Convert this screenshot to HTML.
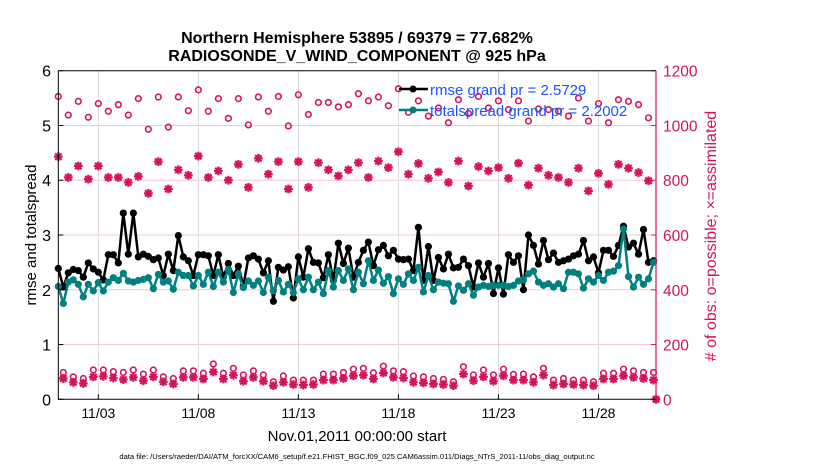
<!DOCTYPE html>
<html><head><meta charset="utf-8"><style>
body{margin:0;background:#fff;width:830px;height:470px;overflow:hidden}
svg{font-family:"Liberation Sans",Arial,sans-serif}
</style></head><body>
<svg id="chart" width="830" height="470">
<text x="357" y="43" text-anchor="middle" font-size="16" font-weight="bold">Northern Hemisphere 53895 / 69379 = 77.682%</text>
<text x="357" y="61" text-anchor="middle" font-size="16" font-weight="bold">RADIOSONDE_V_WIND_COMPONENT @ 925 hPa</text>
<g id="grid"></g>
<g id="obs"></g>
<g id="lines"></g>
<g id="axes"></g>
<text transform="translate(36,235) rotate(-90)" text-anchor="middle" font-size="15">rmse and totalspread</text>
<text transform="translate(716,236) rotate(-90)" text-anchor="middle" font-size="16" fill="#d4145a"># of obs: o=possible; ×=assimilated</text>
<text x="357" y="441" text-anchor="middle" font-size="15">Nov.01,2011 00:00:00 start</text>
<text x="357" y="459" text-anchor="middle" font-size="7.6">data file: /Users/raeder/DAI/ATM_forcXX/CAM6_setup/f.e21.FHIST_BGC.f09_025.CAM6assim.011/Diags_NTrS_2011-11/obs_diag_output.nc</text>
<g>
<line x1="399" y1="89" x2="428" y2="89" stroke="#000" stroke-width="2.5"/>
<circle cx="413" cy="89" r="3.5" fill="#000"/>
<text x="430" y="95" font-size="15" fill="#1a53ff">rmse grand pr = 2.5729</text>
<line x1="399" y1="110" x2="428" y2="110" stroke="#008080" stroke-width="2.5"/>
<circle cx="413" cy="110" r="3.5" fill="#008080"/>
<text x="430" y="116" font-size="15" fill="#1a53ff">totalspread grand pr = 2.2002</text>
</g>
</svg>
<script>
const rmse=[2.39,2.05,2.31,2.37,2.35,2.23,2.49,2.38,2.32,2.18,2.64,2.64,2.49,3.4,2.65,3.4,2.6,2.65,2.61,2.55,2.58,2.26,2.65,2.35,2.99,2.6,2.53,2.26,2.64,2.64,2.62,2.26,2.64,2.23,2.48,2.26,2.43,2.07,2.58,2.62,2.56,2.31,2.53,1.79,2.41,2.36,2.42,1.85,2.6,2.23,2.75,2.5,2.49,2.22,2.64,2.17,2.85,2.48,2.76,2.23,
2.5,2.72,2.87,2.44,2.73,2.81,2.62,2.72,2.56,2.55,2.56,2.35,3.14,2.17,2.79,2.17,2.59,2.38,2.65,2.4,2.41,2.56,2.44,2.05,2.49,2.23,2.48,1.93,2.4,1.92,2.64,2.5,2.62,2.0,3.0,2.81,2.47,2.9,2.55,2.67,2.5,2.53,2.56,2.62,2.65,2.9,2.53,2.6,2.31,2.72,2.72,2.61,2.81,3.16,2.78,2.85,2.65,3.1,2.5,2.53];
const spread=[2.06,1.75,2.14,2.18,2.1,1.87,2.1,1.98,2.13,1.98,2.14,2.22,2.17,2.3,2.16,2.14,2.17,2.19,2.22,2.02,2.28,2.14,2.16,2.01,2.32,2.26,2.26,2.07,2.26,2.1,2.32,2.06,2.32,2.14,2.37,1.95,2.29,2.04,2.16,2.08,2.16,1.95,2.23,1.98,2.17,1.96,2.1,1.95,2.2,2.0,2.23,2.0,2.14,1.93,2.35,2.05,2.35,2.17,2.38,2.0,
2.32,2.11,2.53,2.17,2.36,2.12,2.24,1.93,2.2,2.1,2.29,2.17,2.41,1.96,2.26,2.0,2.14,2.12,2.11,1.79,2.07,1.99,2.11,1.9,2.05,2.08,2.06,2.08,2.08,2.08,2.06,2.08,2.16,2.18,2.29,2.34,2.14,2.08,2.11,2.05,2.11,2.02,2.32,2.32,2.29,2.03,2.2,2.14,2.26,2.17,2.32,2.34,2.44,3.11,2.24,2.05,2.23,2.1,2.2,2.5];
// obs counts at 00Z/12Z (even steps) and 06Z/18Z (odd steps)
const possibleMain=[1106,1038,1088,1030,1080,1052,1076,1038,1098,986,1104,994,1104,1054,1130,1052,1098,1026,1098,1002,1104,1052,1106,998,1112,1040,1084,1084,1068,1076,1116,1090,1104,1072,1134,1048,1090,1034,1064,1010,1094,1044,1106,1064,1090,1058,1090,1016,1060,1058,1052,1034,1100,1016,1080,1010,1094,1088,1076,1028];
const assimMain=[886,810,852,804,852,810,810,792,814,752,868,768,838,818,888,810,834,800,858,774,880,822,868,768,868,774,864,838,816,838,864,810,870,846,904,822,861,807,830,792,870,779,850,834,846,807,862,782,844,818,810,792,844,761,825,785,858,844,828,798];
const possibleOff=[98,82,76,107,107,101,98,107,92,107,82,76,104,104,95,129,95,113,89,104,89,64,85,70,70,70,92,92,98,110,113,97,121,104,101,85,82,76,73,64,119,89,107,89,110,91,92,82,113,70,76,70,70,64,95,95,110,104,98,98];
const assimOff=[76,62,58,82,84,78,72,80,68,82,64,56,80,80,74,100,74,88,66,80,66,50,62,54,52,54,70,70,76,86,88,74,96,80,78,62,60,56,54,50,92,68,82,66,86,70,70,62,88,52,56,54,52,50,74,74,86,80,76,70];
const xTickLabels=["11/03","11/08","11/13","11/18","11/23","11/28"];
const xTickDays=[2,7,12,17,22,27];
const leftTicks=[0,1,2,3,4,5,6];
const rightTicks=[0,200,400,600,800,1000,1200];

const X0=58.3,X1=656,Y0=399.3,Y1=70.7,DMAX=29.875;
const xs=d=>X0+(X1-X0)*d/DMAX;
const yl=v=>Y0-(Y0-Y1)*v/6;
const yr=v=>Y0-(Y0-Y1)*v/1200;
const NS="http://www.w3.org/2000/svg";
function mk(tag,attrs,parent){const e=document.createElementNS(NS,tag);for(const k in attrs)e.setAttribute(k,attrs[k]);parent.appendChild(e);return e;}
const grid=document.getElementById('grid'),axes=document.getElementById('axes'),obs=document.getElementById('obs'),lines=document.getElementById('lines');
const CR="#d4145a",TE="#008080";
mk('rect',{x:X0,y:Y1,width:X1-X0,height:Y0-Y1,fill:'#fff'},grid);
xTickDays.forEach((d,i)=>{
 const l=mk('line',{x1:xs(d),x2:xs(d),y1:Y1,y2:Y0,stroke:'#d8d8d8','stroke-width':1},grid);
 
 
 const t=mk('text',{x:xs(d),y:418,'text-anchor':'middle','font-size':14},axes);
 t.textContent=xTickLabels[i];
 
 
 mk('line',{x1:xs(d),x2:xs(d),y1:Y0,y2:Y0-5,stroke:'#000'},axes);
});
leftTicks.forEach(v=>{
 if(v>0&&v<6){const l=mk('line',{x1:X0,x2:X1,y1:yl(v),y2:yl(v),stroke:'#f4c6d8','stroke-width':1},grid);
 
 }
 const t=mk('text',{x:51,y:yl(v)+6,'text-anchor':'end','font-size':16},axes);
 t.textContent=v;
 
 
 mk('line',{x1:X0,x2:X0+5,y1:yl(v),y2:yl(v),stroke:'#000'},axes);
});
rightTicks.forEach(v=>{
 const t=mk('text',{x:663,y:yr(v)+6,'font-size':15.5,fill:CR},axes);
 t.textContent=v;
 
 
 mk('line',{x1:X1,x2:X1-5,y1:yr(v),y2:yr(v),stroke:CR},axes);
});
mk('path',{d:`M${X0},${Y1}H${X1}M${X0},${Y1}V${Y0}H${X1}`,stroke:'#000',fill:'none','stroke-width':1},axes);
mk('line',{x1:X1,x2:X1,y1:Y1,y2:Y0,stroke:CR,'stroke-width':1.2},axes);

function star(x,y){const s=4.4,q=3.2,g=mk('g',{stroke:CR,'stroke-width':2.2},obs);
 
 
 mk('path',{d:`M${x-s},${y}H${x+s}M${x},${y-s}V${y+s}M${x-q},${y-q}L${x+q},${y+q}M${x-q},${y+q}L${x+q},${y-q}`},g);}
function ring(x,y){const c=mk('circle',{cx:x,cy:y,r:2.8,fill:'none',stroke:CR,'stroke-width':1.6},obs);
 
 }
possibleMain.forEach((v,k)=>{const d=k*0.5;star(xs(d),yr(assimMain[k]));ring(xs(d),yr(v));});
possibleOff.forEach((v,k)=>{const d=k*0.5+0.25;star(xs(d),yr(assimOff[k]));ring(xs(d),yr(v));});
// final empty time (0 obs)
star(xs(DMAX),yr(0));ring(xs(DMAX),yr(0));

function series(vals,color,name){
 const pts=vals.map((v,i)=>[xs(i*0.25),yl(v)]);
 const p=mk('polyline',{points:pts.map(q=>q.join(',')).join(' '),fill:'none',stroke:color,'stroke-width':2.5,'stroke-linejoin':'round'},lines);
 
 
 pts.forEach(q=>{const c=mk('circle',{cx:q[0],cy:q[1],r:3.6,fill:color},lines);
  
  });
}
series(rmse,'#000','rmse');
series(spread,TE,'totalspread');
</script>
</body></html>
